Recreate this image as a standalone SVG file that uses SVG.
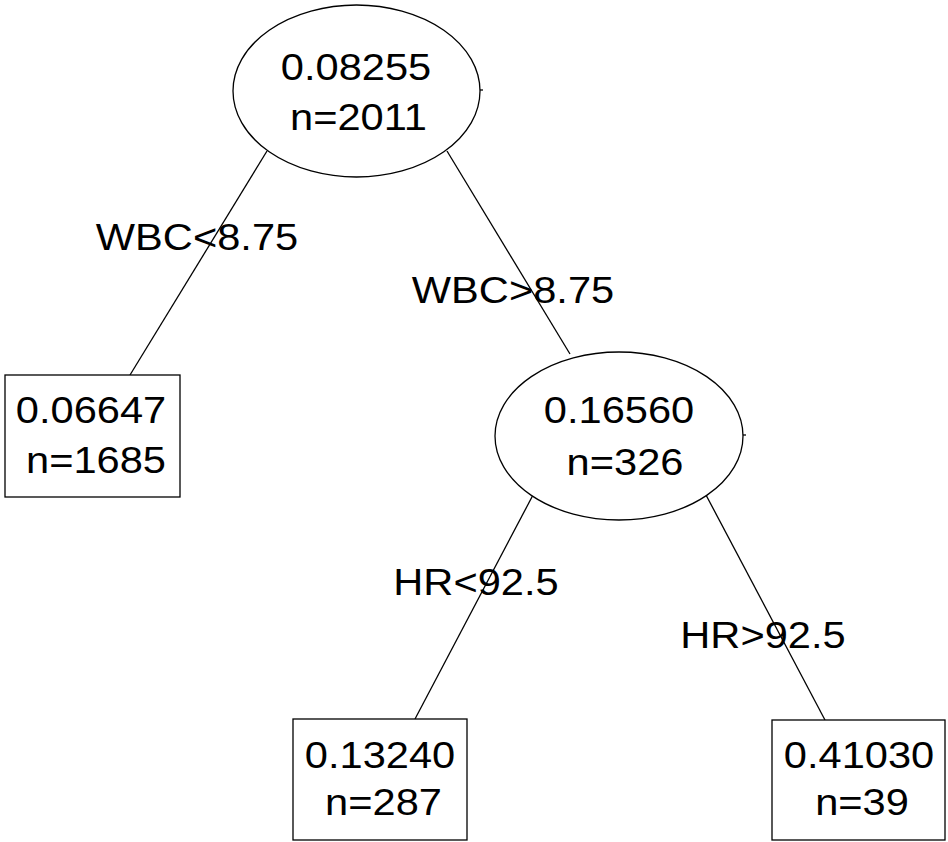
<svg xmlns="http://www.w3.org/2000/svg" width="948" height="842" viewBox="0 0 948 842">
<style>
.s{fill:#fff;stroke:#000;stroke-width:1.3}
.e{fill:none;stroke:#000;stroke-width:1.3}
.t{font-family:"Liberation Sans",Arial,sans-serif;font-size:37.5px;text-anchor:middle;fill:#000}
</style>
<rect width="948" height="842" fill="#fff"/>
<g id="connectors" class="e">
<line x1="267" y1="151" x2="130" y2="375"/>
<line x1="447" y1="151" x2="570" y2="354"/>
<line x1="533" y1="495" x2="415" y2="719"/>
<line x1="706" y1="495" x2="825" y2="720"/>
</g>
<g id="edge-labels">
<text class="t" transform="translate(197,250) scale(1.11,1)">WBC&lt;8.75</text>
<text class="t" transform="translate(513,303) scale(1.11,1)">WBC&gt;8.75</text>
<text class="t" transform="translate(476,595) scale(1.11,1)">HR&lt;92.5</text>
<text class="t" transform="translate(763,648) scale(1.11,1)">HR&gt;92.5</text>
</g>
<g id="root">
<ellipse class="s" cx="356.5" cy="91" rx="123.5" ry="86"/>
<line class="e" x1="480" y1="90" x2="483" y2="90"/>
<text class="t" transform="translate(356,80) scale(1.11,1)">0.08255</text>
<text class="t" transform="translate(358.5,130) scale(1.11,1)">n=2011</text>
</g>
<g id="leaf-left">
<rect class="s" x="5" y="375" width="175" height="122"/>
<text class="t" transform="translate(91,423) scale(1.11,1)">0.06647</text>
<text class="t" transform="translate(96,473) scale(1.11,1)">n=1685</text>
</g>
<g id="node-right">
<ellipse class="s" cx="619" cy="436" rx="124" ry="84"/>
<line class="e" x1="743" y1="435" x2="746" y2="435"/>
<text class="t" transform="translate(619,423) scale(1.11,1)">0.16560</text>
<text class="t" transform="translate(625,475) scale(1.11,1)">n=326</text>
</g>
<g id="leaf-287">
<rect class="s" x="293" y="719" width="174" height="121"/>
<text class="t" transform="translate(380,768) scale(1.11,1)">0.13240</text>
<text class="t" transform="translate(383.5,815) scale(1.11,1)">n=287</text>
</g>
<g id="leaf-39">
<rect class="s" x="772" y="720" width="173" height="120"/>
<text class="t" transform="translate(859,768) scale(1.11,1)">0.41030</text>
<text class="t" transform="translate(862,815) scale(1.11,1)">n=39</text>
</g>
</svg>
